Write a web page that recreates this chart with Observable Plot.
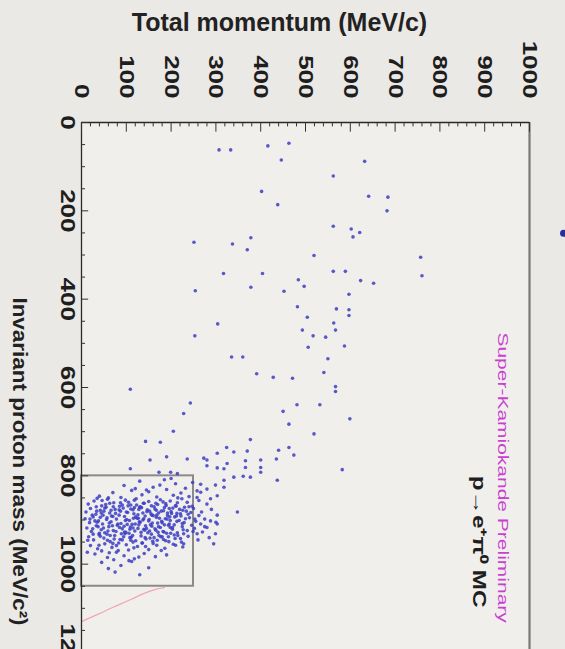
<!DOCTYPE html>
<html><head><meta charset="utf-8">
<script src="https://cdn.jsdelivr.net/npm/d3@7"></script>
<script src="https://cdn.jsdelivr.net/npm/@observablehq/plot@0.6"></script>
<style>
html,body{margin:0;padding:0;background:#ebe9e5;overflow:hidden}
#chart svg{display:block}
</style></head><body><div id="chart"></div>
<script>
// ---- axis ticks & labels ----
const momentumTicks = [0,100,200,300,400,500,600,700,800,900,1000];
const massTicks = [0,200,400,600,800,1000,1200];
const momentumMinor = d3.range(0, 1001, 20);
const massMinor = d3.range(0, 1201, 50);
const xTitle = ["Total momentum (MeV/c)"];
const yTitle = ["Invariant proton mass (MeV/c²)"];

// ---- annotations ----
const experimentLabel = [{p: 940, m: 804, text: "Super-Kamiokande Preliminary"}];
const channelLabel = [{p: 886, m: 949, text: "p→e⁺π⁰ MC"}];
const signalBox = [{pLo: 0, pHi: 250, mLo: 800, mHi: 1050}];
const pinkCurve = [
  {p: 2, m: 1129}, {p: 40, m: 1112}, {p: 72, m: 1097}, {p: 110, m: 1080},
  {p: 140, m: 1066}, {p: 165, m: 1057}, {p: 185, m: 1053}
];
const legendMarker = [{p: 1076, m: 251}];

// ---- MC events: [total momentum, invariant mass] ----
const sparseEvents = [
  [307,62],[333,62],[416,53],[463,47],[446,85],[402,156],[438,186],[378,261],[337,275],[370,288],
  [251,271],[317,342],[404,342],[378,373],[254,381],[484,356],[497,371],[452,382],[482,417],[504,441],
  [493,470],[506,509],[304,456],[253,483],[335,531],[360,531],[391,569],[428,577],[471,579],
  [632,88],[562,121],[641,167],[684,169],[682,200],[562,235],[602,241],[621,249],[606,259],[519,301],
  [757,305],[760,347],[562,337],[589,337],[623,358],[652,364],[597,389],[569,422],[597,424],[597,437],
  [563,454],[567,470],[517,483],[545,486],[587,506],[550,535],[541,566],
  [567,598],[567,609],[532,639],[599,671],[519,705],[582,786],
  [109,604],[243,635],[228,659],[481,639],[450,654],[463,683],[205,699],[143,722],[176,724],[377,718],
  [324,736],[340,746],[370,744],[440,742],[463,736],[474,753],[435,762],[153,764],[190,757],[236,762],
  [273,760],[280,764],[303,749],[280,777],[325,772],[366,766],[400,764],[400,781],[400,792],[366,781],
  [109,784],[173,792],[199,792],[214,795],[303,782],[318,784],[340,803],[361,801],[377,803],[437,810],
  [318,810],[299,821],[318,826],[266,819],[280,830],[266,837],[288,852],[303,845],[258,849],[348,882],
  [303,889],[288,902],[303,909],[280,917],[299,931],[295,954],[258,931],[266,909],[228,954],[128,984],
  [106,992],[13,973]
];
const clusterEvents = [
  [95,822],[130,812],[160,826],[185,809],[210,818],[232,828],[248,815],[120,829],[200,806],[175,821],
  [40,846],[70,838],[88,849],[112,833],[135,843],[150,836],[168,848],[190,831],[205,844],[222,839],
  [240,847],[258,834],[60,850],[145,832],[215,850],
  [15,864],[28,857],[45,868],[58,853],[72,861],[85,869],[98,855],[110,866],[122,852],[138,862],
  [150,858],[162,870],[176,854],[188,863],[198,857],[210,867],[224,852],[236,860],[247,869],[262,856],
  [280,864],[35,851],[105,860],[170,865],[230,871],
  [10,882],[20,874],[32,887],[42,878],[55,871],[63,884],[75,876],[84,889],[93,873],[103,883],
  [115,877],[126,888],[134,872],[146,881],[155,886],[164,875],[172,884],[183,879],[192,890],[204,873],
  [213,885],[226,878],[238,887],[250,874],[268,882],[290,876],[50,880],[118,872],[160,890],[200,881],[244,883],
  [8,897],[18,906],[26,893],[38,902],[47,909],[57,895],[66,904],[78,898],[88,908],[96,892],
  [107,901],[113,910],[124,896],[131,905],[142,891],[151,899],[158,907],[167,894],[179,903],[187,897],
  [196,909],[208,893],[218,901],[229,906],[241,895],[255,903],[275,898],[300,905],[70,892],[137,900],
  [185,911],[222,891],
  [12,918],[22,926],[33,913],[44,922],[52,929],[61,915],[71,924],[80,912],[91,920],[99,928],
  [109,916],[119,925],[128,911],[139,921],[148,929],[157,914],[166,923],[176,917],[184,927],[194,912],
  [203,921],[214,929],[225,915],[236,924],[252,919],[270,927],[40,930],[95,914],[145,919],[190,930],
  [16,938],[27,945],[39,933],[50,941],[64,949],[74,935],[86,944],[97,931],[108,940],[121,947],
  [133,936],[144,943],[156,932],[169,946],[180,938],[195,949],[207,934],[221,942],[238,937],[260,945],
  [285,940],[57,932],[115,950],[173,935],
  [20,958],[36,965],[52,954],[68,962],[82,969],[100,956],[117,963],[135,952],[150,967],[168,957],
  [186,964],[205,955],[226,961],[45,970],[125,960],[160,953],
  [30,977],[58,985],[78,973],[95,981],[118,988],[140,976],[165,983],[190,979],[72,990],
  [45,996],[88,1003],[112,994],[150,1008],[60,1010],[75,1018],[130,1024],
  [33,870],[48,889],[62,907],[77,926],[91,945],[104,868],[117,886],[129,904],[141,923],[153,941],
  [166,862],[178,880],[191,898],[203,917],[215,935],[37,915],[52,873],[67,891],[81,909],[96,927],
  [110,946],[123,866],[137,884],[150,902],[164,920],[177,938],[189,867],[201,885],[213,903],[227,922],
  [42,937],[56,899],[71,870],[85,917],[100,882],[114,935],[127,896],[140,862],[154,911],[168,889],
  [182,926],[196,874],[209,942],[221,886],[30,902],[44,884],[59,925],[73,943],[87,861],[101,899],
  [115,918],[128,876],[142,940],[156,868],[170,907],[183,944],[197,893],[211,869],[228,931],[24,889],
  [66,878],[94,938],[120,909],[147,877],[174,896],[199,930],[108,921],[136,952],[162,940],[83,952],
  [58,946],[210,957],[232,897],[246,912],[110,875],[133,928],[172,915],[188,947],[25,920],[64,935],
  [19,898],[34,880],[49,918],[63,862],[76,885],[89,931],[102,910],[116,896],[130,871],[143,913],
  [157,889],[171,928],[185,872],[198,917],[212,891],[225,908],[39,957],[54,865],[69,913],[84,877],
  [98,901],[111,939],[126,919],[139,897],[152,925],[167,878],[180,906],[194,938],[207,911],[219,876],
  [26,932],[42,894],[87,880],[121,893],[159,948],[192,884],[234,880],[249,926],[262,890],[275,915],
  [14,946],[78,958],[105,968],[143,960],[178,969],[62,974],[131,870],[46,856],[91,866],[118,855],
  [182,859],[214,861],[240,870],[253,898],[35,905],[70,953],[152,880],[198,901],[223,950],[106,930]
];
const events = sparseEvents.concat(clusterEvents);

const FONT = "'Liberation Sans', Arial, Helvetica, sans-serif";

const chart = Plot.plot({
  width: 565,
  height: 670,
  marginLeft: 81,
  marginRight: 36,
  marginTop: 122,
  marginBottom: 18,
  x: {domain: [0, 1000], axis: null},
  y: {domain: [0, 1200], axis: null, reverse: true},
  style: {background: "transparent", fontFamily: FONT, overflow: "visible"},
  marks: [
    Plot.frame({fill: "#f1efec", stroke: null}),
    Plot.line(pinkCurve, {x: "p", y: "m", stroke: "#f2a6b6", strokeWidth: 1.3, curve: "natural"}),
    Plot.rect(signalBox, {x1: "pLo", x2: "pHi", y1: "mLo", y2: "mHi", fill: "none", stroke: "#8c8a88", strokeWidth: 2}),
    Plot.dot(events, {x: d => d[0], y: d => d[1], r: 1.8, fill: "#3b3ec4", fillOpacity: 0.85, stroke: "none"}),
    Plot.dot(legendMarker, {x: "p", y: "m", r: 3.5, fill: "#2b2d9c", stroke: "none"}),
    // frame edges
    Plot.ruleX([1000], {stroke: "#7a7876", strokeWidth: 2.2}),
    Plot.ruleY([1200], {stroke: "#7a7876", strokeWidth: 2}),
    Plot.ruleX([0], {stroke: "#2a2a2a", strokeWidth: 1.3}),
    Plot.ruleY([0], {stroke: "#2a2a2a", strokeWidth: 1.3}),
    // inward ticks
    Plot.ruleX(momentumMinor, {x: d => d, y1: 0, y2: d => d % 100 === 0 ? 22 : 10, stroke: "#333", strokeWidth: 1}),
    Plot.ruleY(massMinor, {y: d => d, x1: 0, x2: d => d % 200 === 0 ? 16 : 9, stroke: "#333", strokeWidth: 1}),
    // tick labels (text mark #0 and #1)
    Plot.text(momentumTicks, {x: d => d, frameAnchor: "top", dy: -24, rotate: 90, textAnchor: "end", lineAnchor: "middle",
      text: d => String(d), fontSize: 20, fontWeight: "bold", fill: "#1e1e1e"}),
    Plot.text(massTicks, {y: d => d, frameAnchor: "left", dx: -14, rotate: 90, textAnchor: "middle", lineAnchor: "middle",
      text: d => String(d), fontSize: 20, fontWeight: "bold", fill: "#1e1e1e"}),
    // titles (#2, #3)
    Plot.text(xTitle, {frameAnchor: "top", dx: -26, dy: -100, text: d => d, fontSize: 25, fontWeight: "bold",
      fill: "#222", textAnchor: "middle", lineAnchor: "middle"}),
    Plot.text(yTitle, {frameAnchor: "left", dx: -62, dy: 74, rotate: 90, text: d => d, fontSize: 21, fontWeight: "bold",
      fill: "#222", textAnchor: "middle", lineAnchor: "middle"}),
    // annotations (#4, #5)
    Plot.text(experimentLabel, {x: "p", y: "m", text: "text", rotate: 90, fontSize: 15, fill: "#c93fd2",
      textAnchor: "middle", lineAnchor: "middle"}),
    Plot.text(channelLabel, {x: "p", y: "m", text: "text", rotate: 90, fontSize: 18, fontWeight: "bold", fill: "#1e1e1e",
      textAnchor: "middle", lineAnchor: "middle"})
  ]
});

// stretch rotated texts along their reading direction, as in the reference
const textGroups = chart.querySelectorAll('g[aria-label="text"]');
const stretchFactors = [1.3, 1.3, 1, 1.07, 1.4, 1.35];
textGroups.forEach((g, i) => {
  const s = stretchFactors[i];
  if (!s || s === 1) return;
  g.querySelectorAll("text").forEach(t => {
    t.setAttribute("transform", (t.getAttribute("transform") || "") + ` scale(${s},1)`);
  });
});

document.getElementById("chart").appendChild(chart);
</script></body></html>
